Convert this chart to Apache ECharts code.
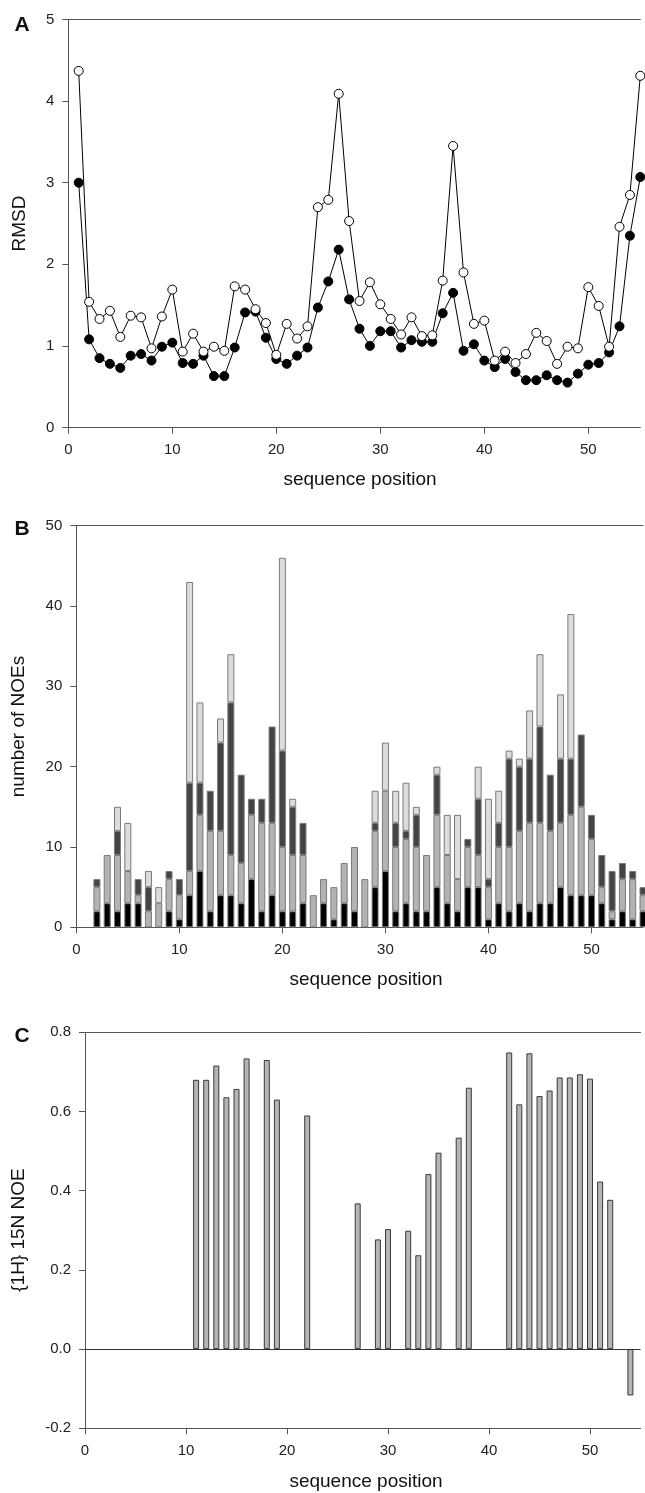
<!DOCTYPE html>
<html><head><meta charset="utf-8">
<script src="https://cdn.jsdelivr.net/npm/echarts@6/dist/echarts.min.js"></script>
<style>html,body{margin:0;padding:0;background:#fff}#c{width:645px;height:1493px}</style>
</head><body><div id="c"></div>
<script>
// ---------- DATA ----------
const xTicks = [0, 10, 20, 30, 40, 50];
const catsB = ['0','1','2','3','4','5','6','7','8','9','10','11','12','13','14','15','16','17','18','19','20','21','22','23','24','25','26','27','28','29','30','31','32','33','34','35','36','37','38','39','40','41','42','43','44','45','46','47','48','49','50','51','52','53','54','55'];

// Panel A: RMSD per sequence position
const posA = [1,2,3,4,5,6,7,8,9,10,11,12,13,14,15,16,17,18,19,20,21,22,23,24,25,26,27,28,29,30,31,32,33,34,35,36,37,38,39,40,41,42,43,44,45,46,47,48,49,50,51,52,53,54,55];
const rmsdOpen = [4.37,1.54,1.33,1.43,1.11,1.37,1.35,0.97,1.36,1.69,0.93,1.15,0.93,0.99,0.94,1.73,1.69,1.45,1.28,0.89,1.27,1.09,1.24,2.70,2.79,4.09,2.53,1.55,1.78,1.51,1.33,1.14,1.35,1.12,1.13,1.80,3.45,1.90,1.27,1.31,0.82,0.93,0.79,0.90,1.16,1.06,0.78,0.99,0.97,1.72,1.49,0.99,2.46,2.85,4.31];
const rmsdFilled = [3.00,1.08,0.85,0.78,0.73,0.88,0.90,0.82,0.99,1.04,0.79,0.78,0.88,0.63,0.63,0.98,1.41,1.42,1.10,0.84,0.78,0.88,0.98,1.47,1.79,2.18,1.57,1.21,1.00,1.18,1.18,0.98,1.07,1.05,1.05,1.40,1.65,0.94,1.02,0.82,0.74,0.84,0.68,0.58,0.58,0.64,0.58,0.55,0.66,0.77,0.79,0.92,1.24,2.35,3.07];

// Panel B: number of NOEs (stacked classes)
const posB = ['2','3','4','5','6','7','8','9','10','11','12','13','14','15','16','17','18','19','20','21','22','23','24','25','26','27','28','29','30','31','32','33','34','35','36','37','38','39','40','41','42','43','44','45','46','47','48','49','50','51','52','53','54','55'];
const noeBlack  = [2,3,2,3,3,0,0,2,1,4,7,2,4,4,3,6,2,4,2,2,3,0,3,1,3,2,0,5,7,2,3,2,2,5,3,2,5,5,1,3,2,3,2,3,3,5,4,4,4,3,1,2,1,2];
const noeMedium = [3,6,7,4,1,2,3,4,3,3,7,10,8,5,5,8,11,9,8,7,6,4,3,4,5,8,6,7,10,8,8,8,7,9,6,4,5,4,4,7,8,9,11,10,9,8,10,11,7,2,1,4,5,2];
const noeDark   = [1,0,3,0,2,3,0,1,2,11,4,5,11,19,11,2,3,12,12,6,4,0,0,0,0,0,0,1,0,3,1,4,0,5,0,0,1,7,1,3,11,8,8,12,7,8,7,9,3,4,5,2,1,1];
const noeLight  = [0,0,3,6,0,2,2,0,0,25,10,0,3,6,0,0,0,0,24,1,0,0,0,0,0,0,0,4,6,4,6,1,0,1,5,8,0,4,10,4,1,1,6,9,0,8,18,0,0,0,0,0,0,0];

// Panel C: {1H}-15N heteronuclear NOE
const posC = [11,12,13,14,15,16,18,19,22,27,29,30,32,33,34,35,37,38,42,43,44,45,46,47,48,49,50,51,52,54];
const hetNOE = [0.68,0.68,0.716,0.636,0.657,0.734,0.73,0.63,0.59,0.368,0.277,0.303,0.299,0.237,0.442,0.496,0.534,0.66,0.749,0.618,0.747,0.639,0.653,0.686,0.686,0.694,0.683,0.423,0.377,-0.117];

// ---------- CHART ----------
const FONT = '"Liberation Sans", Arial, sans-serif';
const AX = '#555';
const chart = echarts.init(document.getElementById('c'), null, {renderer: 'canvas'});

const grids = [
  {left: 68.3, top: 19.5, width: 572, height: 408},
  {left: 76.3, top: 525.7, width: 566.7, height: 401.6},
  {left: 85, top: 1032.3, width: 555.5, height: 396}
];

const lbl = {color: '#222', fontSize: 15, fontFamily: FONT};

function xBottom(g) {
  return {gridIndex: g, type: 'value', min: 0, max: 55, position: 'bottom',
    axisLine: {show: true, onZero: false, lineStyle: {color: AX, width: 1}},
    axisTick: {show: true, customValues: xTicks, length: 6, lineStyle: {color: AX}},
    axisLabel: Object.assign({customValues: xTicks, margin: 15}, lbl),
    splitLine: {show: false}};
}
function xTop(g) {
  return {gridIndex: g, type: 'value', min: 0, max: 55, position: 'top',
    axisLine: {show: true, onZero: false, lineStyle: {color: AX, width: 1}},
    axisTick: {show: false}, axisLabel: {show: false}, splitLine: {show: false}};
}
function yAx(g, min, max, interval, fmt) {
  return {gridIndex: g, type: 'value', min: min, max: max, interval: interval,
    axisLine: {show: true, onZero: false, lineStyle: {color: AX, width: 1}},
    axisTick: {show: true, length: 6, lineStyle: {color: AX}},
    axisLabel: Object.assign({margin: 14, formatter: fmt}, lbl),
    splitLine: {show: false}};
}
const xCatB = {gridIndex: 1, type: 'category', data: catsB, boundaryGap: false, position: 'bottom',
  axisLine: {show: true, onZero: false, lineStyle: {color: AX, width: 1}},
  axisTick: {show: true, interval: 9, length: 6, lineStyle: {color: AX}},
  axisLabel: Object.assign({interval: 9, margin: 15}, lbl),
  splitLine: {show: false}};

function seg(arr) { return arr.map((v, i) => [posB[i], v === 0 ? null : v]); }
const segStyle = (c) => ({color: c, borderColor: '#7a7a7a', borderWidth: 1});

const series = [
  {type: 'line', xAxisIndex: 0, yAxisIndex: 0, data: posA.map((p, i) => [p, rmsdFilled[i]]),
   symbol: 'circle', symbolSize: 9, lineStyle: {color: '#000', width: 1},
   itemStyle: {color: '#000', borderColor: '#000', borderWidth: 1}, z: 2},
  {type: 'line', xAxisIndex: 0, yAxisIndex: 0, data: posA.map((p, i) => [p, rmsdOpen[i]]),
   symbol: 'circle', symbolSize: 9, lineStyle: {color: '#000', width: 1},
   itemStyle: {color: '#fff', borderColor: '#000', borderWidth: 1}, z: 3},
  {type: 'bar', xAxisIndex: 2, yAxisIndex: 1, stack: 'noe', barWidth: 7, data: seg(noeBlack), itemStyle: segStyle('#000000')},
  {type: 'bar', xAxisIndex: 2, yAxisIndex: 1, stack: 'noe', barWidth: 7, data: seg(noeMedium), itemStyle: segStyle('#b3b3b3')},
  {type: 'bar', xAxisIndex: 2, yAxisIndex: 1, stack: 'noe', barWidth: 7, data: seg(noeDark), itemStyle: segStyle('#444444')},
  {type: 'bar', xAxisIndex: 2, yAxisIndex: 1, stack: 'noe', barWidth: 7, data: seg(noeLight), itemStyle: segStyle('#dcdcdc')},
  {type: 'bar', xAxisIndex: 4, yAxisIndex: 2, barWidth: 6, data: posC.map((p, i) => [p, hetNOE[i]]),
   itemStyle: {color: '#b5b5b5', borderColor: '#3a3a3a', borderWidth: 1},
   markLine: {silent: true, symbol: 'none', label: {show: false}, animation: false,
     lineStyle: {color: '#333', type: 'solid', width: 1}, data: [{yAxis: 0}]}}
];

const txt = (text, x, y, size, bold, rot) => ({type: 'text', x: x, y: y, rotation: rot || 0,
  style: {text: text, font: (bold ? 'bold ' : '') + size + 'px ' + FONT, fill: '#111',
          textAlign: 'center', textVerticalAlign: 'middle'}});

chart.setOption({
  animation: false,
  backgroundColor: '#fff',
  grid: grids,
  xAxis: [xBottom(0), xTop(0), xCatB, xTop(1), xBottom(2), xTop(2)],
  yAxis: [
    yAx(0, 0, 5, 1),
    yAx(1, 0, 50, 10),
    yAx(2, -0.2, 0.8, 0.2, (v) => v.toFixed(1))
  ],
  series: series,
  graphic: [
    txt('A', 22, 25, 21, true), txt('B', 22, 529, 21, true), txt('C', 22, 1036, 21, true),
    txt('RMSD', 20, 223.5, 19, false, Math.PI / 2),
    txt('number of NOEs', 19, 726.5, 19, false, Math.PI / 2),
    txt('{1H} 15N NOE', 19, 1230, 19, false, Math.PI / 2),
    txt('sequence position', 360, 480, 19, false),
    txt('sequence position', 366, 980, 19, false),
    txt('sequence position', 366, 1482, 19, false)
  ]
});
</script></body></html>
